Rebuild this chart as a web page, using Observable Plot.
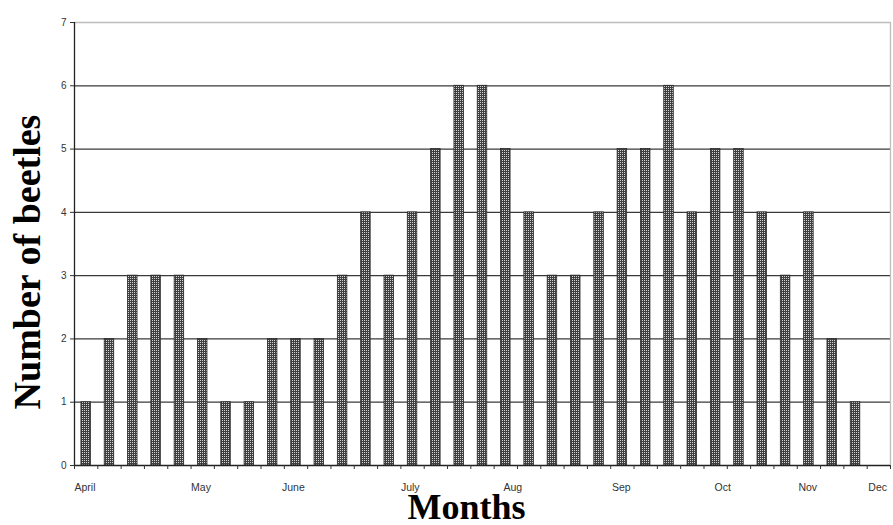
<!DOCTYPE html>
<html>
<head>
<meta charset="utf-8">
<script src="https://cdn.jsdelivr.net/npm/d3@7"></script>
<script src="https://cdn.jsdelivr.net/npm/@observablehq/plot@0.6"></script>
<style>
  html, body { margin: 0; padding: 0; background: #fff; }
  #chart { width: 893px; height: 525px; }
</style>
</head>
<body>
<div id="chart"></div>
<script>
// Weekly counts of beetles (one bar per week slot)
const counts = [1,2,3,3,3,2,1,1,2,2,2,3,4,3,4,5,6,6,5,4,3,3,4,5,5,6,4,5,5,4,3,4,2,1];
const slotCount = 35;
const yTicks = [0,1,2,3,4,5,6,7];
const gridLevels = [1,2,3,4,5,6];
const monthLabels = ["April","May","June","July","Aug","Sep","Oct","Nov","Dec"];
const monthPos = [0,5,8.9,14,18.4,23.05,27.45,31.05,34.05];

const bars = counts.map((v, i) => ({slot: i, value: v}));
const months = monthLabels.map((m, i) => ({label: m, pos: monthPos[i]}));
const weekTicks = d3.range(0, slotCount + 1);

const plot = Plot.plot({
  width: 893,
  height: 525,
  marginLeft: 74,
  marginRight: 3,
  marginTop: 22,
  marginBottom: 60,
  style: {fontFamily: "'Liberation Sans', Arial, sans-serif", background: "#fff"},
  x: {type: "linear", domain: [0, slotCount], axis: null},
  y: {domain: [0, 7], axis: null},
  marks: [
    Plot.ruleY(gridLevels, {stroke: "#3a3a3a", strokeWidth: 1.3}),
    Plot.ruleY([7], {stroke: "#bdbdbd", strokeWidth: 1.3}),
    Plot.ruleX([slotCount], {y1: 0, y2: 7, stroke: "#bdbdbd", strokeWidth: 1.3}),
    Plot.rectY(bars, {
      x1: "slot", x2: d => d.slot + 1, y: "value",
      insetLeft: 6.9, insetRight: 6.9,
      fill: "url(#checker)", stroke: "#2a2a2a", strokeWidth: 0.8
    }),
    Plot.ruleX([0], {y1: 0, y2: 7, stroke: "#222", strokeWidth: 1.3}),
    Plot.ruleY([0], {stroke: "#222", strokeWidth: 1.3}),
    Plot.axisY(yTicks, {tickSize: 4, tickPadding: 4, fontSize: 10, color: "#333", label: null, tickFormat: d => String(d)}),
    Plot.axisX(weekTicks, {tickSize: 4, tickFormat: () => "", label: null, color: "#333"}),
    Plot.text(months, {x: "pos", y: 0, text: "label", textAnchor: "start", dy: 22, fontSize: 10.5, fill: "#333"}),
    Plot.text(["Number of beetles"], {
      frameAnchor: "left", textAnchor: "middle", lineAnchor: "middle", rotate: -90, dx: -47, dy: 18,
      fontFamily: "'Liberation Serif', 'Times New Roman', serif", fontWeight: "bold", fontSize: 38, fill: "#000"
    }),
    Plot.text(["Months"], {
      frameAnchor: "bottom", textAnchor: "middle", lineAnchor: "bottom", dx: -16, dy: 53,
      fontFamily: "'Liberation Serif', 'Times New Roman', serif", fontWeight: "bold", fontSize: 36, fill: "#000"
    })
  ]
});

// checkered pattern for bars
const ns = "http://www.w3.org/2000/svg";
const svg = plot.tagName.toLowerCase() === "svg" ? plot : plot.querySelector("svg");
const defs = document.createElementNS(ns, "defs");
const pat = document.createElementNS(ns, "pattern");
pat.setAttribute("id", "checker");
pat.setAttribute("patternUnits", "userSpaceOnUse");
pat.setAttribute("width", "2");
pat.setAttribute("height", "2");
const bg = document.createElementNS(ns, "rect");
bg.setAttribute("width", "2"); bg.setAttribute("height", "2"); bg.setAttribute("fill", "#3f3f3f");
const d1 = document.createElementNS(ns, "rect");
d1.setAttribute("x", "0"); d1.setAttribute("y", "0"); d1.setAttribute("width", "1"); d1.setAttribute("height", "1"); d1.setAttribute("fill", "#d4d4d4");
pat.appendChild(bg); pat.appendChild(d1);
defs.appendChild(pat);
svg.insertBefore(defs, svg.firstChild);

document.getElementById("chart").appendChild(plot);
</script>
</body>
</html>
